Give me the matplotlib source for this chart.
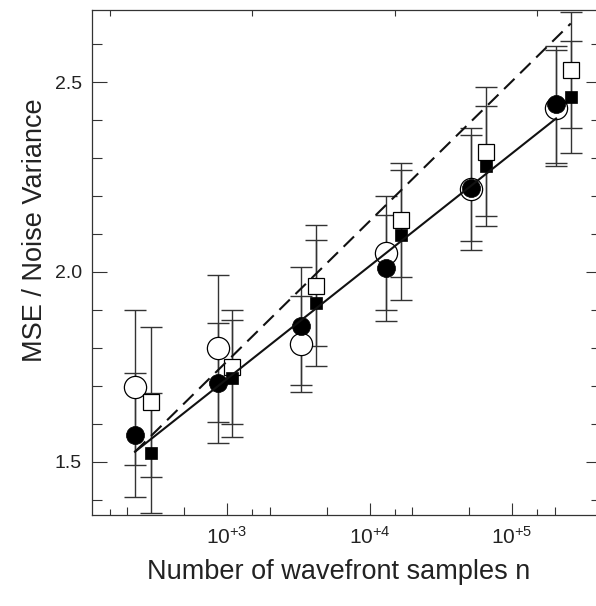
import matplotlib
matplotlib.use('Agg')
import matplotlib.pyplot as plt
from matplotlib.ticker import FixedLocator, NullFormatter

plt.rcParams['font.family'] = ['Liberation Sans', 'DejaVu Sans']
plt.rcParams['mathtext.fontset'] = 'custom'
plt.rcParams['mathtext.rm'] = 'Liberation Sans'
plt.rcParams['mathtext.it'] = 'Liberation Sans:italic'

# ---- data ----
n_circ = [226, 869, 3304, 13060, 51500, 203700]
n_sq = [291, 1089, 4214, 16640, 65700, 258300]

open_circ = [1.697, 1.799, 1.811, 2.049, 2.219, 2.431]
open_circ_err = [0.204, 0.194, 0.126, 0.150, 0.160, 0.152]
filled_circ = [1.571, 1.707, 1.858, 2.010, 2.221, 2.442]
filled_circ_err = [0.164, 0.158, 0.155, 0.140, 0.139, 0.154]
open_sq = [1.657, 1.751, 1.964, 2.137, 2.317, 2.532]
open_sq_err = [0.197, 0.150, 0.159, 0.150, 0.169, 0.153]
filled_sq = [1.523, 1.720, 1.919, 2.097, 2.279, 2.461]
filled_sq_err = [0.158, 0.153, 0.166, 0.171, 0.157, 0.147]

fit_n = [226, 203700]
fit_v = [1.527, 2.404]
theory_n = [226, 258300]
theory_v = [1.527, 2.654]

x_major = [1e3, 1e4, 1e5]
x_major_labels = ['$10^{+3}$', '$10^{+4}$', '$10^{+5}$']
x_minor = [200, 500, 2000, 5000, 20000, 50000, 200000]
x_minor_short = [150, 1500, 15000, 150000]
y_major = [1.5, 2.0, 2.5]
y_major_labels = ['1.5', '2.0', '2.5']
y_minor = [1.4, 1.6, 1.7, 1.8, 1.9, 2.1, 2.2, 2.3, 2.4, 2.6]

# ---- figure ----
W, H = 596, 606
fig = plt.figure(figsize=(W / 100, H / 100), dpi=100)
L, R, T, B = 91.7, 601, 10, 515
ax = fig.add_axes([L / W, 1 - B / H, (R - L) / W, (B - T) / H])
ax.set_xscale('log')
ax.set_xlim(112.3, 4.21e5)
ax.set_ylim(1.3605, 2.6895)

ecol = '#333333'
eb_kw = dict(fmt='none', ecolor=ecol, elinewidth=1.0, capsize=8, capthick=1.0, zorder=2)
ax.errorbar(n_circ, open_circ, yerr=open_circ_err, **eb_kw)
ax.errorbar(n_circ, filled_circ, yerr=filled_circ_err, **eb_kw)
ax.errorbar(n_sq, open_sq, yerr=open_sq_err, **eb_kw)
ax.errorbar(n_sq, filled_sq, yerr=filled_sq_err, **eb_kw)

ax.plot(n_circ, open_circ, 'o', ms=16, mfc='white', mec='black', mew=0.9, ls='none', zorder=3)
ax.plot(n_circ, filled_circ, 'o', ms=13, mfc='black', mec='black', mew=0.5, ls='none', zorder=4)
ax.plot(n_sq, open_sq, 's', ms=11.5, mfc='white', mec='black', mew=0.9, ls='none', zorder=3)
ax.plot(n_sq, filled_sq, 's', ms=9.3, mfc='black', mec='black', mew=0.5, ls='none', zorder=4)

ax.plot(fit_n, fit_v, '-', color='#111111', lw=1.5, zorder=5)
ax.plot(theory_n, theory_v, color='#111111', lw=1.5, dashes=[7.0, 3.8], zorder=5)

# ticks
ax.xaxis.set_major_locator(FixedLocator(x_major))
ax.set_xticklabels(x_major_labels)
ax.xaxis.set_minor_locator(FixedLocator(x_minor))
ax.xaxis.set_minor_formatter(NullFormatter())
ax.yaxis.set_major_locator(FixedLocator(y_major))
ax.set_yticklabels(y_major_labels)
ax.yaxis.set_minor_locator(FixedLocator(y_minor))
ax.yaxis.set_minor_formatter(NullFormatter())

tcol = '#333333'
ax.tick_params(axis='both', which='both', direction='in', top=True, right=True,
               color=tcol, width=0.8, labelcolor='#222222', labelsize=14)
ax.tick_params(axis='x', which='major', length=8.4, pad=8, labelsize=15)
ax.tick_params(axis='x', which='minor', length=5.8)
ax.tick_params(axis='y', which='major', length=10.8, pad=7)
ax.tick_params(axis='y', which='minor', length=7.2)
for s in ax.spines.values():
    s.set_color(tcol)
    s.set_linewidth(0.9)

# short minor ticks at 1.5 x decade
ax2 = ax.twiny()
ax2.set_xscale('log')
ax2.set_xlim(ax.get_xlim())
ax2.set_frame_on(False)
ax2.xaxis.set_major_locator(FixedLocator(x_minor_short))
ax2.xaxis.set_major_formatter(NullFormatter())
ax2.xaxis.set_minor_locator(FixedLocator([]))
ax2.tick_params(axis='x', which='major', direction='in', top=True, bottom=True,
                length=4.3, width=0.8, color=tcol, labeltop=False, labelbottom=False)

fig.text(35 / W, 1 - 230 / H, 'MSE / Noise Variance', rotation=90, ha='center', va='center',
         fontsize=19.5, color='#222222')
fig.text(339 / W, 1 - 572 / H, 'Number of wavefront samples n', ha='center', va='center',
         fontsize=19.5, color='#222222')

fig.savefig('out.png', dpi=100)
